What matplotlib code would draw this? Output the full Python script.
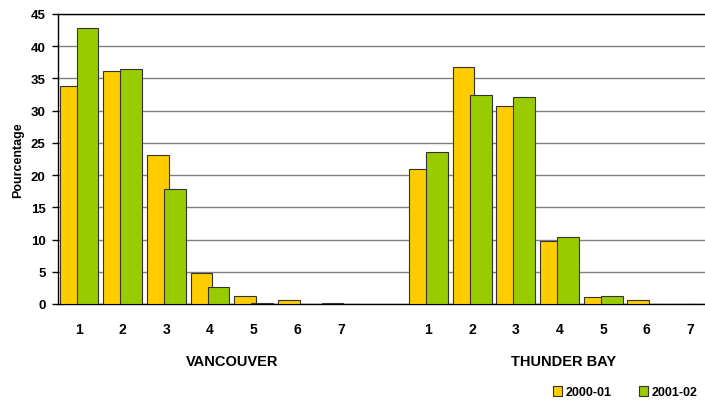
import numpy as np
import matplotlib
matplotlib.use("Agg")
import matplotlib.pyplot as plt
import matplotlib.transforms as mtransforms

# data
categories = ['1', '2', '3', '4', '5', '6', '7']
vancouver_2000 = [33.9, 36.1, 23.1, 4.8, 1.3, 0.6, 0.15]
vancouver_2001 = [42.8, 36.4, 17.9, 2.6, 0.15, 0.0, 0.0]
thunder_2000 = [20.9, 36.7, 30.8, 9.8, 1.1, 0.6, 0.0]
thunder_2001 = [23.6, 32.5, 32.1, 10.4, 1.3, 0.0, 0.0]
groups = ['VANCOUVER', 'THUNDER BAY']
series = ['2000-01', '2001-02']

yellow = '#FFCC00'
green = '#99CC00'

plt.rcParams['font.family'] = ['Liberation Sans', 'DejaVu Sans']
plt.rcParams['font.weight'] = 'bold'

fig = plt.figure(figsize=(7.05, 4.02), dpi=100)
ax = fig.add_axes([0.0823, 0.2413, 0.92, 0.7214])

n = len(categories)
x_van = np.arange(n)
x_tb = np.arange(n) + n + 1
x_all = np.concatenate([x_van, x_tb])
y2000 = vancouver_2000 + thunder_2000
y2001 = vancouver_2001 + thunder_2001

w = 0.5
off = 0.195
ax.bar(x_all - off, y2000, width=w, color=yellow, edgecolor='#333333', linewidth=0.8,
       label=series[0], zorder=3)
ax.bar(x_all + off, y2001, width=w, color=green, edgecolor='#333333', linewidth=0.8,
       label=series[1], zorder=4)

ax.set_xlim(-0.48, 14.37)
ax.set_ylim(0, 45)
ax.set_yticks(np.arange(0, 46, 5))
ax.yaxis.grid(True, color='#808080', linewidth=1, zorder=0)
ax.set_axisbelow(True)
ax.tick_params(axis='y', labelsize=9.5, length=4, width=1, pad=5)
ax.set_xticks(x_all)
ax.set_xticklabels(categories + categories, fontsize=10, fontweight='bold')
ax.tick_params(axis='x', length=0, pad=13)
ax.set_ylabel('Pourcentage', fontsize=9, fontweight='bold', labelpad=5)

for s in ['left', 'bottom', 'top']:
    ax.spines[s].set_color('black')
    ax.spines[s].set_linewidth(1)
ax.spines['right'].set_visible(False)

trans = mtransforms.blended_transform_factory(ax.transData, ax.transAxes)
ax.text(3.5, -0.197, groups[0], transform=trans, ha='center', va='center',
        fontsize=10.5, fontweight='bold')
ax.text(11.1, -0.197, groups[1], transform=trans, ha='center', va='center',
        fontsize=10.5, fontweight='bold')

fig.legend(loc='center right', bbox_to_anchor=(1.0, 0.022), ncol=2, frameon=False,
           fontsize=9, handlelength=0.7, handleheight=0.9, handletextpad=0.3,
           columnspacing=2.2, borderaxespad=0.2)

fig.savefig('out.png', dpi=100)
